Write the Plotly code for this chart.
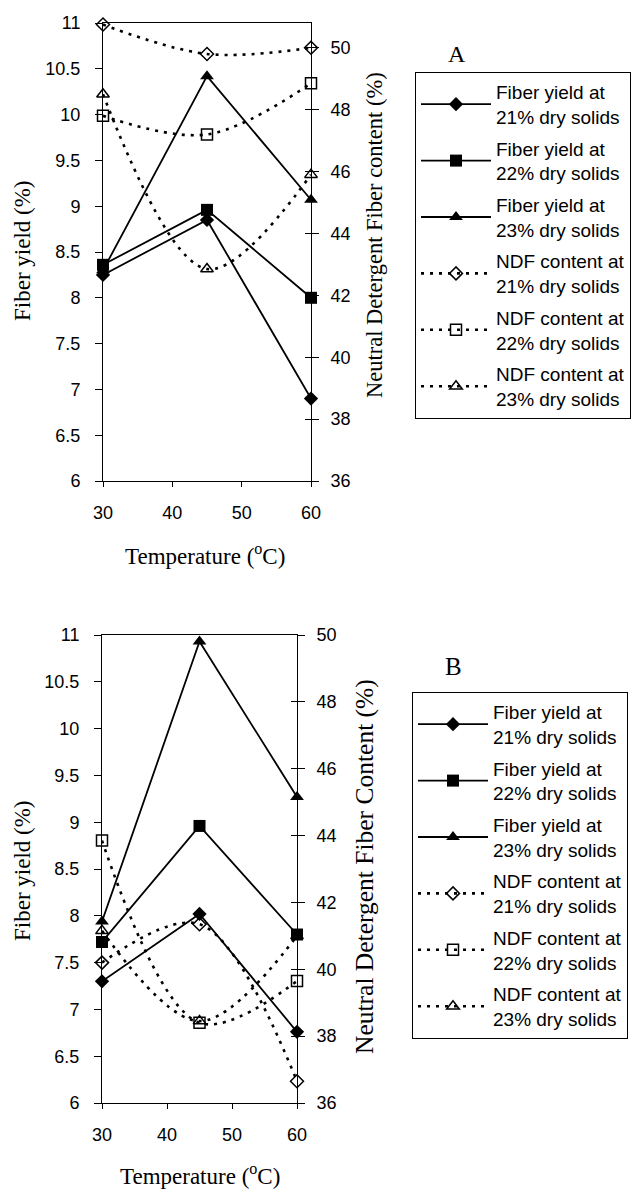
import plotly.graph_objects as go

# ---------------- data ----------------
temps = [30, 45, 60]

# Panel A
a_fy21 = [8.25, 8.85, 6.90]
a_fy22 = [8.36, 8.96, 8.00]
a_fy23 = [8.30, 10.42, 9.07]
a_ndf21 = [50.75, 49.80, 50.00]
a_ndf22 = [47.80, 47.20, 48.85]
a_ndf23 = [48.50, 42.85, 45.90]

# Panel B
b_fy21 = [7.30, 8.02, 6.76]
b_fy22 = [7.72, 8.96, 7.80]
b_fy23 = [7.94, 10.93, 9.27]
b_ndf21 = [40.20, 41.35, 36.65]
b_ndf22 = [43.85, 38.40, 39.65]
b_ndf23 = [41.15, 38.45, 41.00]

fy_names = ["Fiber yield at<br>21% dry solids",
            "Fiber yield at<br>22% dry solids",
            "Fiber yield at<br>23% dry solids"]
ndf_names = ["NDF content at<br>21% dry solids",
             "NDF content at<br>22% dry solids",
             "NDF content at<br>23% dry solids"]

left_ticks = [6, 6.5, 7, 7.5, 8, 8.5, 9, 9.5, 10, 10.5, 11]
left_ticktext = ["6", "6.5", "7", "7.5", "8", "8.5", "9", "9.5", "10", "10.5", "11"]
right_ticks = [36, 38, 40, 42, 44, 46, 48, 50]
x_ticks = [30, 40, 50, 60]

# ---------------- styles ----------------
PAGE_W, PAGE_H = 639, 1189
OFF = 8  # default body margin of the html page
W, H = PAGE_W - OFF, PAGE_H - OFF
SANS = "Liberation Sans, Arial, sans-serif"
SERIF = "Liberation Serif, Times New Roman, serif"

fy_symbols = ["diamond", "square", "triangle-up"]
fy_sizes = [11, 12, 12]
ndf_symbols = ["diamond-open", "square-open", "triangle-up-open"]
ndf_sizes = [10, 11, 11]

fig = go.Figure()


def add_panel(fy_list, ndf_list, xa, ya_left, ya_right, legend, tag):
    for i, vals in enumerate(fy_list):
        fig.add_trace(go.Scatter(
            x=temps, y=vals, name=fy_names[i], mode="lines+markers",
            xaxis=xa, yaxis=ya_left, legend=legend, legendgroup=f"{tag}fy{i}",
            cliponaxis=False,
            line=dict(color="black", width=1.8),
            marker=dict(symbol=fy_symbols[i], size=fy_sizes[i], color="black"),
        ))
    for i, vals in enumerate(ndf_list):
        fig.add_trace(go.Scatter(
            x=temps, y=vals, name=ndf_names[i], mode="lines+markers",
            xaxis=xa, yaxis=ya_right, legend=legend, legendgroup=f"{tag}ndf{i}",
            cliponaxis=False,
            line=dict(color="black", width=2.6, dash="3px,6px", shape="spline", smoothing=1),
            marker=dict(symbol=ndf_symbols[i], size=ndf_sizes[i], color="black",
                        line=dict(color="black", width=1.5)),
        ))


add_panel([a_fy21, a_fy22, a_fy23], [a_ndf21, a_ndf22, a_ndf23], "x", "y", "y2", "legend", "a")
add_panel([b_fy21, b_fy22, b_fy23], [b_ndf21, b_ndf22, b_ndf23], "x2", "y4", "y5", "legend2", "b")

# geometry in page pixels
A_x0, A_x1, A_y0, A_y1 = 103, 311, 23, 481
B_x0, B_x1, B_y0, B_y1 = 102, 297, 635, 1103


def px(xp):
    return (xp - OFF) / W


def py(yp):
    return 1 - (yp - OFF) / H


tickfont = dict(family=SANS, size=18, color="black")

common_x = dict(range=[30, 60], tickvals=x_ticks, ticks="outside", ticklen=5,
                tickcolor="black", showline=True, linecolor="black", linewidth=1,
                mirror=True, showgrid=False, zeroline=False, tickfont=tickfont,
                ticklabelstandoff=10)
left_y = dict(range=[6, 11], tickvals=left_ticks, ticktext=left_ticktext,
              ticks="outside", ticklen=7, tickcolor="black", showline=True,
              linecolor="black", linewidth=1, showgrid=False, zeroline=False,
              tickfont=tickfont, ticklabelstandoff=11)
right_y = dict(tickvals=right_ticks, ticks="outside", ticklen=7, tickcolor="black",
               showline=True, linecolor="black", linewidth=1, showgrid=False,
               zeroline=False, side="right", tickfont=tickfont, ticklabelstandoff=8)
inner_y = dict(tickvals=right_ticks, ticks="inside", ticklen=6, tickcolor="black",
               showline=False, showgrid=False, zeroline=False, side="right",
               showticklabels=False)

legend_style = dict(xanchor="left", yanchor="top",
                    bgcolor="white", bordercolor="black", borderwidth=1,
                    font=dict(family=SANS, size=19, color="black"),
                    itemwidth=70, tracegroupgap=4, traceorder="grouped")

fig.update_layout(
    width=W, height=H,
    margin=dict(l=0, r=0, t=0, b=0, pad=0, autoexpand=False),
    paper_bgcolor="white", plot_bgcolor="white",
    xaxis=dict(domain=[px(A_x0), px(A_x1)], anchor="y", **common_x),
    yaxis=dict(domain=[py(A_y1), py(A_y0)], anchor="x", **left_y),
    yaxis2=dict(overlaying="y", anchor="x", range=[36, 50.8], **right_y),
    yaxis3=dict(overlaying="y", anchor="x", range=[36, 50.8], **inner_y),
    xaxis2=dict(domain=[px(B_x0), px(B_x1)], anchor="y4", **common_x),
    yaxis4=dict(domain=[py(B_y1), py(B_y0)], anchor="x2", **left_y),
    yaxis5=dict(overlaying="y4", anchor="x2", range=[36, 50], **right_y),
    yaxis6=dict(overlaying="y4", anchor="x2", range=[36, 50], **inner_y),
    legend=dict(x=px(415), y=py(72), **legend_style),
    legend2=dict(x=px(412), y=py(692), **legend_style),
    showlegend=True,
)

# invisible traces so the inner-tick overlay axes render
fig.add_trace(go.Scatter(x=[30], y=[40], xaxis="x", yaxis="y3", mode="markers",
                         marker=dict(opacity=0), showlegend=False, hoverinfo="skip"))
fig.add_trace(go.Scatter(x=[30], y=[40], xaxis="x2", yaxis="y6", mode="markers",
                         marker=dict(opacity=0), showlegend=False, hoverinfo="skip"))

annots = [
    dict(text="A", x=px(457), y=py(54), size=24, angle=0),
    dict(text="B", x=px(453), y=py(666), size=25, angle=0),
    dict(text="Temperature (<sup>o</sup>C)", x=px(205), y=py(554), size=23, angle=0),
    dict(text="Temperature (<sup>o</sup>C)", x=px(200), y=py(1174), size=23, angle=0),
    dict(text="Fiber yield (%)", x=px(22), y=py(251), size=23, angle=-90),
    dict(text="Neutral Detergent Fiber content (%)", x=px(375), y=py(235), size=22.5, angle=-90),
    dict(text="Fiber yield (%)", x=px(22), y=py(871), size=23, angle=-90),
    dict(text="Neutral Detergent Fiber Content (%)", x=px(364), y=py(866), size=25.5, angle=-90),
]
for a in annots:
    fig.add_annotation(text=a["text"], x=a["x"], y=a["y"], xref="paper", yref="paper",
                       xanchor="center", yanchor="middle", showarrow=False,
                       textangle=a["angle"],
                       font=dict(family=SERIF, size=a["size"], color="black"))

fig.write_html("out.html")
